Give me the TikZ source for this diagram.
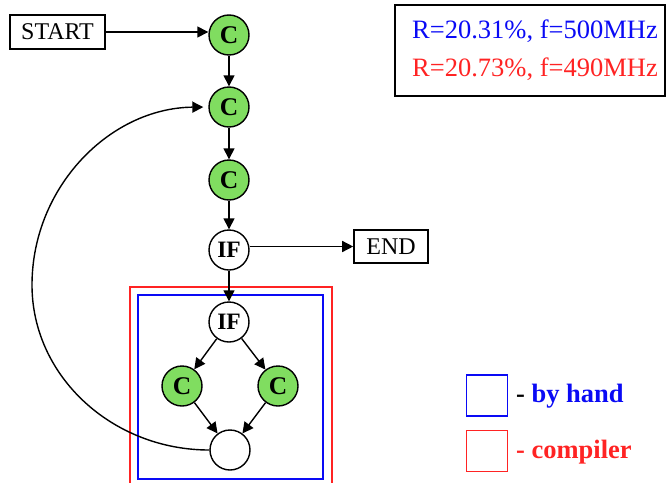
\documentclass[tikz,border=0pt]{standalone}
\usepackage{fontspec}
\setmainfont{Liberation Serif}
\usetikzlibrary{arrows.meta}
\definecolor{cgreen}{RGB}{128,221,96}
\definecolor{cblue}{RGB}{10,10,245}
\definecolor{cred}{RGB}{255,35,35}
\tikzset{
  cnode/.style={circle,draw,line width=1.4pt,minimum size=40pt,inner sep=0pt,fill=cgreen,font=\fontsize{25.5}{27}\selectfont\bfseries},
  ifnode/.style={circle,draw,line width=1.4pt,minimum size=40pt,inner sep=0pt,fill=white,font=\fontsize{23.5}{26}\selectfont\bfseries},
  boxnode/.style={draw,line width=1.6pt,inner sep=0pt,font=\fontsize{24}{26}\selectfont},
  arr/.style={line width=1.4pt,-{Triangle[length=11pt,width=11pt]}},
  legend/.style={line width=1.6pt,minimum width=41pt,minimum height=41pt,inner sep=0pt},
  ltext/.style={anchor=west,font=\fontsize{26.5}{28}\selectfont\bfseries,inner sep=0pt},
  infotext/.style={font=\fontsize{26.5}{28}\selectfont},
}
\begin{document}
\begin{tikzpicture}[x=1pt,y=-1pt]
\useasboundingbox (0,0) rectangle (672,482);
\clip (0,0) rectangle (672,482);
% regions
\draw[cred,line width=1.8pt] (130,287) rectangle (332,495);
\draw[cblue,line width=1.8pt] (138,295) rectangle (323,479);
% nodes
\node[boxnode,minimum width=95pt,minimum height=34pt] (start) at (57.5,32) {START};
\node[cnode] (c1) at (229,35) {C};
\node[cnode] (c2) at (229,107) {C};
\node[cnode] (c3) at (229,180) {C};
\node[ifnode] (if1) at (229,250) {IF};
\node[boxnode,minimum width=74pt,minimum height=33pt] (end) at (391,246.5) {END};
\node[ifnode] (if2) at (229,322) {IF};
\node[cnode] (cl) at (182,386) {C};
\node[cnode] (cr) at (278,386) {C};
\node[ifnode] (join) at (230,450) {};
% info box
\node[draw,line width=1.8pt,minimum width=270pt,minimum height=91pt] (info) at (530,50.5) {};
\node[infotext,cblue] (t1) at (535,31) {R=20.31\%, f=500MHz};
\node[infotext,cred] (t2) at (535,69) {R=20.73\%, f=490MHz};
% legend
\node[legend,draw=cblue] (lb) at (487,395.5) {};
\node[legend,draw=cred] (lr) at (487,451) {};
\node[ltext] (lbt) at (516,396) {- \textcolor{cblue}{by hand}};
\node[ltext,cred] (lrt) at (516,452) {- compiler};
% edges
\draw[arr] (start.east) -- (start.east -| c1.west);
\draw[arr] (c1) -- (c2);
\draw[arr] (c2) -- (c3);
\draw[arr] (c3) -- (if1);
\draw[arr] (if1.east |- end.west) -- (end.west);
\draw[arr] (if1) -- (if2);
\draw[arr] (if2) -- (cl);
\draw[arr] (if2) -- (cr);
\draw[arr] (cl) -- (join);
\draw[arr] (cr) -- (join);
\draw[arr,shorten >=5pt] (join.west) .. controls (112,450) and (32,376) .. (32,285)
  .. controls (32,187) and (110,108) .. (c2.west);
\end{tikzpicture}
\end{document}
